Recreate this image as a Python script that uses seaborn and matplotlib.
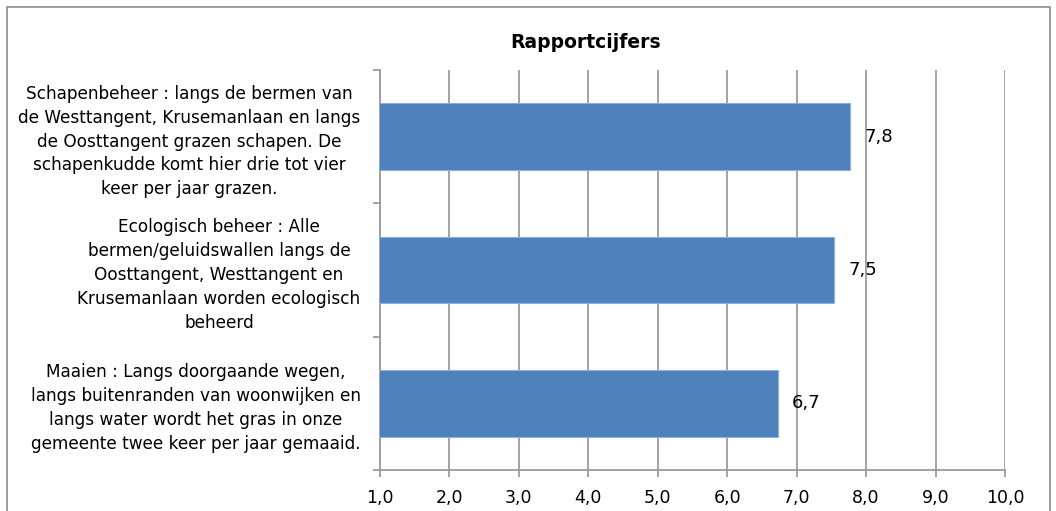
import pandas as pd
import seaborn as sns
import matplotlib.pyplot as plt
from matplotlib.patches import Rectangle

# --- data ---
categories = [
    "Schapenbeheer : langs de bermen van\nde Westtangent, Krusemanlaan en langs\nde Oosttangent grazen schapen. De\nschapenkudde komt hier drie tot vier\nkeer per jaar grazen.",
    "Ecologisch beheer : Alle\nbermen/geluidswallen langs de\nOosttangent, Westtangent en\nKrusemanlaan worden ecologisch\nbeheerd",
    "Maaien : Langs doorgaande wegen,\nlangs buitenranden van woonwijken en\nlangs water wordt het gras in onze\ngemeente twee keer per jaar gemaaid.",
]
scores = [7.77, 7.54, 6.73]
x_ticks = [1, 2, 3, 4, 5, 6, 7, 8, 9, 10]
title = "Rapportcijfers"

df = pd.DataFrame({"item": categories, "score": scores})

sns.set_theme(style="white")
plt.rcParams['font.family'] = ['DejaVu Sans']
plt.rcParams['text.color'] = 'black'
plt.rcParams['xtick.labelcolor'] = 'black'
plt.rcParams['ytick.labelcolor'] = 'black'

fig = plt.figure(figsize=(10.56, 5.11), dpi=100)
ax = fig.add_axes([380 / 1056, 1 - 470 / 511, 625 / 1056, 400 / 511])

sns.barplot(data=df, x="score", y="item", orient="h", color="#4F81BD",
            saturation=1, width=0.5, edgecolor="#8DB0DA", linewidth=0.8, ax=ax, zorder=3)

grid_c = "#9C9C9C"
ax.set_xlim(1, 10)
ax.set_ylim(2.5, -0.5)
ax.set_xticks(x_ticks)
ax.set_xticklabels([f"{v:.1f}".replace(".", ",") for v in x_ticks], fontsize=12.5)
ax.xaxis.grid(True, color=grid_c, linewidth=1.3, zorder=0)
ax.set_axisbelow(True)
ax.tick_params(axis="x", direction="out", length=5, width=1.3, color=grid_c, pad=9, bottom=True)

# y ticks: labels at centres, tick marks at category boundaries
ax.set_yticks([0, 1, 2])
ax.set_yticklabels(categories, fontsize=12.2, multialignment="center", linespacing=1.42)
ax.tick_params(axis="y", which="major", length=0, pad=14)
ax.set_yticks([-0.5, 0.5, 1.5, 2.5], minor=True)
ax.tick_params(axis="y", which="minor", direction="out", length=5, width=1.3, color=grid_c, left=True)

for side in ["top", "right"]:
    ax.spines[side].set_visible(False)
for side in ["left", "bottom"]:
    ax.spines[side].set_color(grid_c)
    ax.spines[side].set_linewidth(1.3)

ax.set_xlabel("")
ax.set_ylabel("")

ax.bar_label(ax.containers[0], labels=[f"{v:.1f}".replace(".", ",") for v in scores],
             padding=10, fontsize=13)

fig.text(586 / 1056, 1 - 42 / 511, title, ha="center", va="center",
         fontsize=13.5, fontweight="bold")

fig.patches.append(Rectangle((7 / 1056, -0.05), 1043 / 1056, 1.05 - 7 / 511,
                             transform=fig.transFigure, fill=False,
                             edgecolor="#8C8C8C", linewidth=1.2))

fig.savefig("out.png", dpi=100)
